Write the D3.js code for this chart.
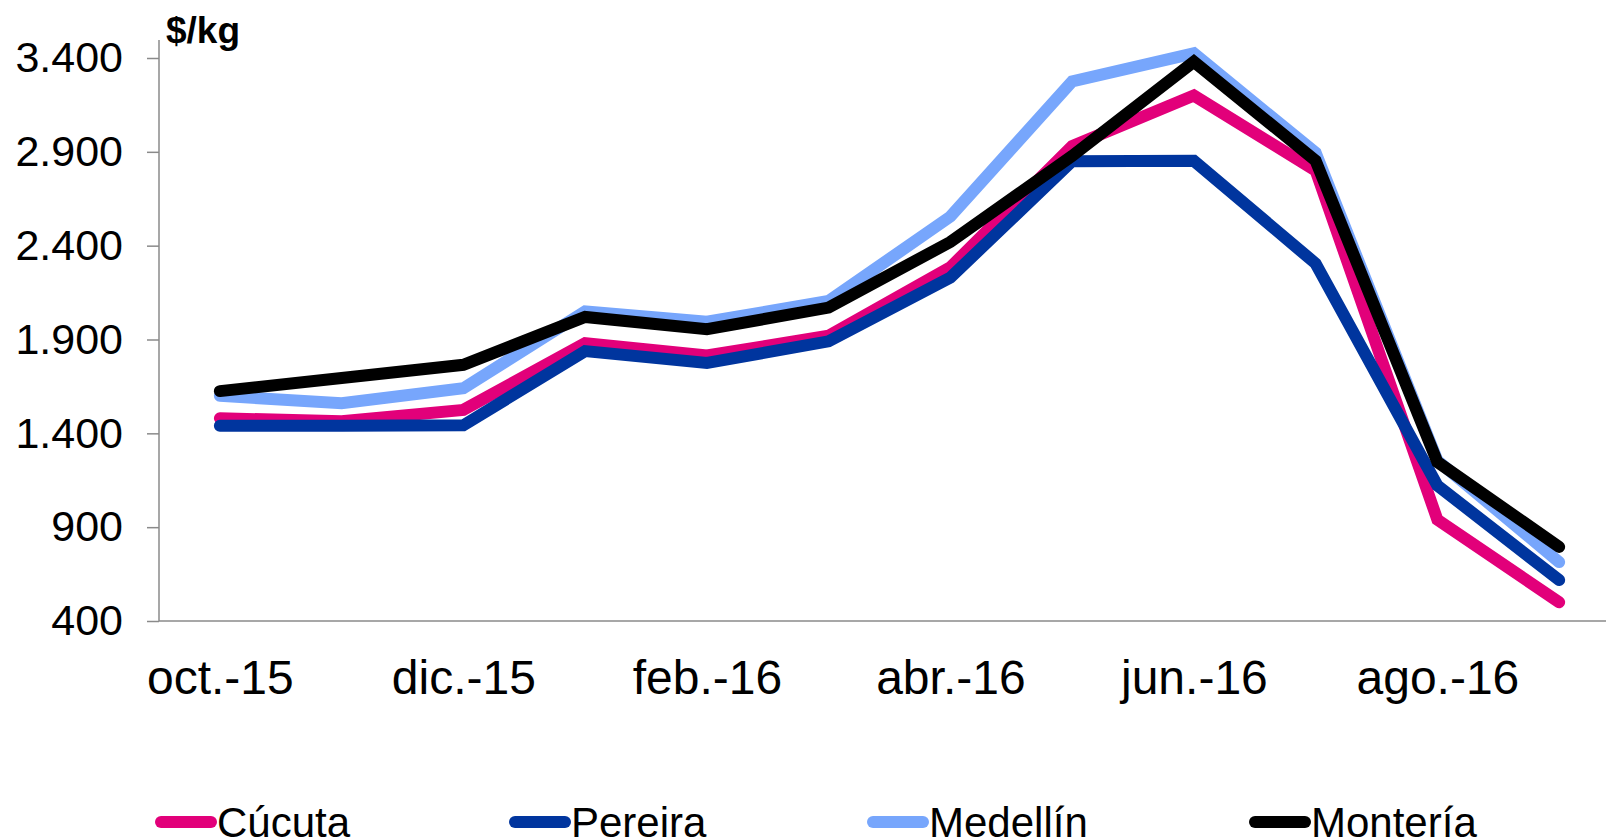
<!DOCTYPE html>
<html>
<head>
<meta charset="utf-8">
<script src="https://cdn.jsdelivr.net/npm/d3@7"></script>
<style>
body {
  margin: 0;
  background-color: white;
  overflow: hidden;
}
text {
  font-family: "Liberation Sans", Arial, sans-serif;
  fill: black;
}
</style>
</head>
<body>
<script>

const months = ["oct.-15", "nov.-15", "dic.-15", "ene.-16", "feb.-16", "mar.-16",
                "abr.-16", "may.-16", "jun.-16", "jul.-16", "ago.-16", "sep.-16"];
const shownMonths = ["oct.-15", "dic.-15", "feb.-16", "abr.-16", "jun.-16", "ago.-16"];
const yTicks = [400, 900, 1400, 1900, 2400, 2900, 3400];

const cucuta   = [1480, 1465, 1525, 1880, 1815, 1920, 2285, 2930, 3200, 2800, 940, 500];
const pereira  = [1440, 1440, 1443, 1838, 1775, 1890, 2230, 2850, 2852, 2305, 1122, 618];
const medellin = [1600, 1560, 1640, 2050, 1995, 2105, 2555, 3275, 3425, 2895, 1255, 714];
const monteria = [1625, 1695, 1765, 2020, 1955, 2070, 2420, 2878, 3380, 2853, 1247, 795];

const seriesNames = ["Cúcuta", "Pereira", "Medellín", "Montería"];
const seriesColors = ["#e2007a", "#00359e", "#77a6fc", "#000000"];
const series = [cucuta, pereira, medellin, monteria];

const W = 1606, H = 840;
const svg = d3.select("body").append("svg")
  .attr("width", W)
  .attr("height", H);

// plot area runs past the right edge of the picture, like the original
const x = d3.scalePoint().domain(months).range([159, 1620]).padding(0.5);
const y = d3.scaleLinear().domain([400, 3400]).range([621, 58]);

// y axis
const yAxis = d3.axisLeft(y).tickValues(yTicks).tickSize(12).tickPadding(24)
  .tickFormat(d => d3.format(",")(d).replace(",", "."));
const gy = svg.append("g").attr("transform", "translate(159,0)").call(yAxis);
gy.select(".domain").remove();
gy.selectAll(".tick line").attr("stroke", "#8a8a8a").attr("stroke-width", 1.5);
gy.selectAll(".tick text").style("font-size", "43px").attr("fill", "black");
svg.append("line")
  .attr("x1", 159).attr("x2", 159).attr("y1", 40).attr("y2", y(400))
  .attr("stroke", "#8a8a8a").attr("stroke-width", 1.5);

// x axis
const xAxis = d3.axisBottom(x).tickValues(shownMonths).tickSize(0).tickPadding(39);
const gx = svg.append("g").attr("transform", `translate(0,${y(400)})`).call(xAxis);
gx.select(".domain").remove();
gx.selectAll(".tick text").style("font-size", "48px").attr("fill", "black");
svg.append("line")
  .attr("x1", 159).attr("x2", W).attr("y1", y(400)).attr("y2", y(400))
  .attr("stroke", "#8a8a8a").attr("stroke-width", 1.5);

// unit label
svg.append("text").attr("x", 166).attr("y", 43)
  .style("font-size", "37px").style("font-weight", "bold").text("$/kg");

// lines
const line = d3.line()
  .x((d, i) => x(months[i]))
  .y(d => y(d));

series.forEach((s, k) => {
  svg.append("path").datum(s)
    .attr("fill", "none")
    .attr("stroke", seriesColors[k])
    .attr("stroke-width", 12)
    .attr("stroke-linecap", "round")
    .attr("stroke-linejoin", "miter")
    .attr("d", line);
});

// legend
const legendX = [161, 515, 873, 1255];
const legend = svg.append("g");
seriesNames.forEach((name, k) => {
  legend.append("line")
    .attr("x1", legendX[k]).attr("x2", legendX[k] + 50)
    .attr("y1", 822).attr("y2", 822)
    .attr("stroke", seriesColors[k])
    .attr("stroke-width", 12)
    .attr("stroke-linecap", "round");
  legend.append("text")
    .attr("x", legendX[k] + 56).attr("y", 837)
    .style("font-size", "42px")
    .text(name);
});

</script>
</body>
</html>
